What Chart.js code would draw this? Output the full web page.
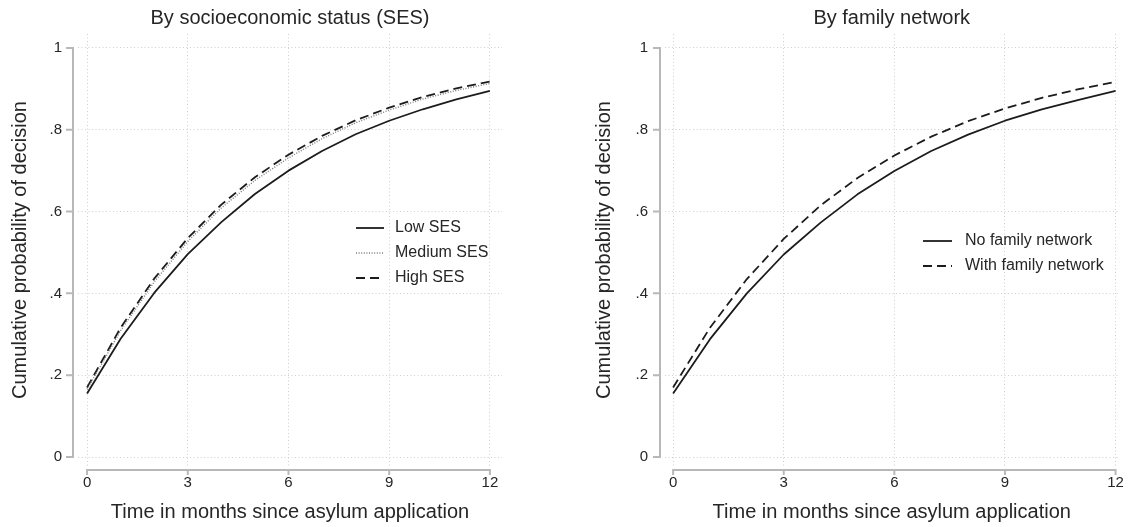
<!DOCTYPE html>
<html><head><meta charset="utf-8">
<script src="https://cdn.jsdelivr.net/npm/chart.js@4.4.1/dist/chart.umd.min.js"></script>
<style>
html,body{margin:0;padding:0;background:#fff;}
#wrap{position:relative;width:1132px;height:527px;overflow:hidden;}
.panel{position:absolute;top:0;width:566px;height:527px;}
</style></head><body>
<div id="wrap">
<div class="panel" style="left:0"><canvas id="c1" width="566" height="527"></canvas></div>
<div class="panel" style="left:566px"><canvas id="c2" width="566" height="527"></canvas></div>
</div>
<script>
// ---- data ----
const months = [0,1,2,3,4,5,6,7,8,9,10,11,12];
const xTicks = [0,3,6,9,12];
const yTicks = [0,0.2,0.4,0.6,0.8,1];
const yTickLabels = ['0','.2','.4','.6','.8','1'];

const lowSES    = [0.155,0.289,0.401,0.496,0.574,0.643,0.700,0.748,0.789,0.822,0.850,0.874,0.895];
const mediumSES = [0.165,0.309,0.428,0.527,0.609,0.676,0.731,0.778,0.817,0.848,0.875,0.896,0.913];
const highSES   = [0.170,0.316,0.436,0.535,0.617,0.684,0.739,0.785,0.823,0.854,0.880,0.901,0.918];

const noFamily   = [0.155,0.288,0.400,0.495,0.573,0.642,0.699,0.748,0.788,0.822,0.850,0.873,0.895];
const withFamily = [0.170,0.316,0.435,0.533,0.615,0.682,0.737,0.783,0.821,0.852,0.878,0.899,0.917];

const seriesLabels1 = ['Low SES','Medium SES','High SES'];
const seriesLabels2 = ['No family network','With family network'];
const title1 = 'By socioeconomic status (SES)';
const title2 = 'By family network';
const xTitle = 'Time in months since asylum application';
const yTitle = 'Cumulative probability of decision';

// ---- styles ----
const FAM = '"Liberation Sans", Arial, Helvetica, sans-serif';
const TXT = '#262626';
const solid  = {borderColor:'#1c1c1c', borderWidth:1.8, borderDash:[]};
const dotted = {borderColor:'#7a7a7a', borderWidth:1.4, borderDash:[1,1.6]};
const dashed = {borderColor:'#1c1c1c', borderWidth:1.8, borderDash:[9,5]};

function pts(vals){ return months.map((m,i)=>({x:m, y:vals[i]})); }
function ds(label, vals, st){
  return Object.assign({label, data:pts(vals), pointRadius:0, tension:0, fill:false,
    borderCapStyle:'butt', borderJoinStyle:'round'}, st);
}

const stataAxes = {
  id:'stataAxes',
  afterDraw(chart){
    const {ctx, chartArea:a, scales:{x,y}} = chart;
    ctx.save();
    ctx.strokeStyle = '#b8b8b8'; ctx.lineWidth = 2; ctx.setLineDash([]);
    const ax = a.left - 5;
    const yTop = y.getPixelForValue(yTicks[yTicks.length-1]);
    const yBot = y.getPixelForValue(yTicks[0]);
    ctx.beginPath();
    ctx.moveTo(ax, yTop-1); ctx.lineTo(ax, yBot+1);
    yTicks.forEach(v=>{ const py = y.getPixelForValue(v); ctx.moveTo(ax-7, py); ctx.lineTo(ax, py); });
    const ay = a.bottom + 4;
    ctx.moveTo(x.getPixelForValue(xTicks[0])-1, ay); ctx.lineTo(x.getPixelForValue(xTicks[xTicks.length-1])+1, ay);
    xTicks.forEach(v=>{ const px = x.getPixelForValue(v); ctx.moveTo(px, ay); ctx.lineTo(px, ay+5); });
    ctx.stroke();
    // legend
    const L = chart.options.plugins.stataLegend;
    if (L) {
      ctx.font = '16px ' + FAM; ctx.textBaseline = 'middle'; ctx.textAlign = 'left';
      chart.data.datasets.forEach((d,i)=>{
        const yy = L.y0 + i*L.dy;
        ctx.strokeStyle = d.borderColor; ctx.lineWidth = d.borderWidth; ctx.setLineDash(d.borderDash||[]);
        ctx.beginPath(); ctx.moveTo(L.x0, yy); ctx.lineTo(L.x1, yy); ctx.stroke();
        ctx.setLineDash([]); ctx.fillStyle = TXT; ctx.fillText(d.label, L.tx, yy);
      });
    }
    ctx.restore();
  }
};

function makeChart(id, title, datasets, cfg){
  return new Chart(document.getElementById(id), {
    type:'line',
    data:{datasets},
    plugins:[stataAxes],
    options:{
      responsive:false, animation:false, devicePixelRatio:1,
      layout:{padding:{left:0, right:cfg.padRight, top:0, bottom:0}},
      plugins:{
        legend:{display:false}, tooltip:{enabled:false},
        title:{display:true, fullSize:false, text:title, color:TXT, font:{size:20, family:FAM, weight:'normal'}, padding:{top:6.5, bottom:3.5}},
        stataLegend: cfg.legend
      },
      scales:{
        x:{type:'linear', min:cfg.xmin, max:cfg.xmax,
          afterBuildTicks:s=>{ s.ticks = xTicks.map(v=>({value:v})); },
          afterFit:s=>{ s.height = 61; },
          grid:{color:'#cfcfcf', lineWidth:1, drawTicks:false},
          border:{display:false, dash:[1,2.5]},
          ticks:{padding:8, color:TXT, font:{size:15, family:FAM}, maxRotation:0, autoSkip:false, callback:v=>String(v)},
          title:{display:true, text:xTitle, color:TXT, font:{size:20, family:FAM}, padding:{top:0, bottom:3}}
        },
        y:{type:'linear', min:-0.022, max:1.034,
          afterBuildTicks:s=>{ s.ticks = yTicks.map(v=>({value:v})); },
          afterFit:s=>{ s.width = cfg.yWidth; },
          grid:{color:'#cfcfcf', lineWidth:1, drawTicks:false},
          border:{display:false, dash:[1,2.5]},
          ticks:{padding:cfg.yPad, color:TXT, font:{size:15, family:FAM}, autoSkip:false,
            callback:v=>{ const i = yTicks.indexOf(v); return i>=0 ? yTickLabels[i] : ''; }},
          title:{display:true, text:yTitle, color:TXT, font:{size:20, family:FAM}, padding:{top:cfg.yTitlePad, bottom:0}}
        }
      }
    }
  });
}

makeChart('c1', title1, [
  ds(seriesLabels1[0], lowSES, solid),
  ds(seriesLabels1[1], mediumSES, dotted),
  ds(seriesLabels1[2], highSES, dashed)
], {xmin:-0.27, xmax:12.36, padRight:64, yWidth:78, yPad:16, yTitlePad:8,
    legend:{x0:356, x1:384, tx:395, y0:228, dy:25}});

makeChart('c2', title2, [
  ds(seriesLabels2[0], noFamily, solid),
  ds(seriesLabels2[1], withFamily, dashed)
], {xmin:-0.22, xmax:12.08, padRight:13, yWidth:99, yPad:17, yTitlePad:26,
    legend:{x0:357, x1:386, tx:399, y0:241, dy:25}});
</script>
</body></html>
